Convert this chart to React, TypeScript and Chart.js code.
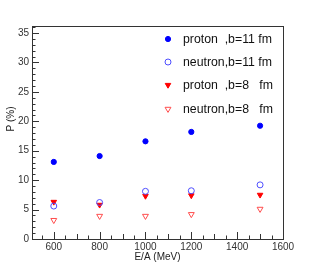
import React, { useEffect, useRef } from "react";
import { Chart, registerables } from "chart.js";

Chart.register(...registerables);

const energies = [600, 800, 1000, 1200, 1500];
const protonB11 = [13.1, 14.1, 16.6, 18.2, 19.25];
const neutronB11 = [5.6, 6.2, 8.1, 8.2, 9.2];
const protonB8 = [6.3, 5.8, 7.3, 7.4, 7.5];
const neutronB8 = [3.2, 3.9, 3.9, 4.2, 5.1];
const seriesLabels = ["proton  ,b=11 fm", "neutron,b=11 fm", "proton  ,b=8   fm", "neutron,b=8   fm"];
const xTicks = [600, 800, 1000, 1200, 1400, 1600];
const yTicks = [0, 5, 10, 15, 20, 25, 30, 35];
const xTitle = "E/A (MeV)";
const yTitle = "P (%)";

const FONT = "'Liberation Sans', Arial, sans-serif";

export default function App() {
  const ref = useRef<HTMLCanvasElement | null>(null);

  useEffect(() => {
    const canvas = ref.current;
    if (!canvas) return;
    const mk = (vals: number[]) => energies.map((x, i) => ({ x, y: vals[i] }));
    const styles = [
      { pointStyle: "circle", radius: 2.6, bg: "#0000ff", border: "#0000ff", rot: 0, bw: 1 },
      { pointStyle: "circle", radius: 3, bg: "rgba(0,0,0,0)", border: "#4d4dff", rot: 0, bw: 1 },
      { pointStyle: "triangle", radius: 3.2, bg: "#ff0000", border: "#ff0000", rot: 180, bw: 1 },
      { pointStyle: "triangle", radius: 3.4, bg: "rgba(0,0,0,0)", border: "#ff4d4d", rot: 180, bw: 1 },
    ];
    const vals = [protonB11, neutronB11, protonB8, neutronB8];
    const datasets = vals.map((v, i) => ({
      label: seriesLabels[i],
      data: mk(v),
      showLine: false,
      pointStyle: styles[i].pointStyle as any,
      pointRadius: styles[i].radius,
      pointBackgroundColor: styles[i].bg,
      pointBorderColor: styles[i].border,
      pointBorderWidth: styles[i].bw,
      pointRotation: styles[i].rot,
    }));

    const decor = {
      id: "decor",
      afterDraw(chart: any) {
        const { ctx, chartArea: a, scales } = chart;
        const xs = scales.x;
        const ys = scales.y;
        ctx.save();
        ctx.strokeStyle = "#333";
        ctx.lineWidth = 1;
        ctx.strokeRect(Math.round(a.left) + 0.5, Math.round(a.top) + 0.5, Math.round(a.right - a.left), Math.round(a.bottom - a.top));
        ctx.beginPath();
        for (let v = 550; v <= 1600; v += 50) {
          const px = Math.round(xs.getPixelForValue(v)) + 0.5;
          const len = v % 200 === 0 ? 7 : v % 100 === 0 ? 5 : 3.5;
          ctx.moveTo(px, a.bottom);
          ctx.lineTo(px, a.bottom - len);
        }
        for (let v = 0; v <= 36; v += 1) {
          const py = Math.round(ys.getPixelForValue(v)) + 0.5;
          const len = v % 5 === 0 ? 7 : 3.5;
          ctx.moveTo(a.left, py);
          ctx.lineTo(a.left + len, py);
        }
        ctx.stroke();

        // axis titles
        ctx.fillStyle = "#222";
        ctx.font = `10px ${FONT}`;
        ctx.textAlign = "center";
        ctx.textBaseline = "middle";
        ctx.fillText(xTitle, (a.left + a.right) / 2, 257);
        ctx.save();
        ctx.translate(11, 119);
        ctx.rotate(-Math.PI / 2);
        ctx.fillText(yTitle, 0, 0);
        ctx.restore();

        // legend
        const rows = [39, 62, 85, 109];
        ctx.font = `12.3px ${FONT}`;
        ctx.textAlign = "left";
        ctx.textBaseline = "middle";
        chart.data.datasets.forEach((ds: any, i: number) => {
          const y = rows[i];
          ctx.fillStyle = ds.pointBackgroundColor;
          ctx.strokeStyle = ds.pointBorderColor;
          ctx.lineWidth = ds.pointBorderWidth;
          ctx.beginPath();
          if (ds.pointStyle === "circle") {
            ctx.arc(168, y, ds.pointRadius, 0, Math.PI * 2);
          } else {
            const r = ds.pointRadius;
            ctx.moveTo(168 - r * 0.866, y - r * 0.5);
            ctx.lineTo(168 + r * 0.866, y - r * 0.5);
            ctx.lineTo(168, y + r);
            ctx.closePath();
          }
          ctx.fill();
          ctx.stroke();
          ctx.fillStyle = "#111";
          ctx.fillText(ds.label, 183, y + 0.5);
        });
        ctx.restore();
      },
    };

    const chart = new Chart(canvas, {
      type: "scatter",
      data: { datasets },
      options: {
        animation: false,
        responsive: false,
        layout: { padding: { top: 26, right: 32, left: 0, bottom: 0 } },
        plugins: { legend: { display: false }, tooltip: { enabled: false } },
        scales: {
          x: {
            type: "linear",
            min: 505,
            max: 1600,
            grid: { display: false, drawTicks: false, tickLength: 0 },
            border: { display: false },
            ticks: {
              color: "#333",
              font: { family: FONT, size: 10 },
              padding: 2,
              maxRotation: 0,
              callback: (v: any) => String(v),
            },
            afterBuildTicks: (s: any) => { s.ticks = xTicks.map((v) => ({ value: v })); },
            afterFit: (s: any) => { s.height = 27; },
          },
          y: {
            type: "linear",
            min: 0,
            max: 36.2,
            grid: { display: false, drawTicks: false, tickLength: 0 },
            border: { display: false },
            ticks: {
              color: "#333",
              font: { family: FONT, size: 10 },
              padding: 3,
              callback: (v: any) => String(v),
            },
            afterBuildTicks: (s: any) => { s.ticks = yTicks.map((v) => ({ value: v })); },
            afterFit: (s: any) => { s.width = 32; },
          },
        },
      },
      plugins: [decor],
    });
    return () => chart.destroy();
  }, []);

  return (
    <div style={{ position: "absolute", left: 0, top: 0, width: 315, height: 266, background: "#fff" }}>
      <canvas ref={ref} width={315} height={266} style={{ width: 315, height: 266, display: "block" }} />
    </div>
  );
}
